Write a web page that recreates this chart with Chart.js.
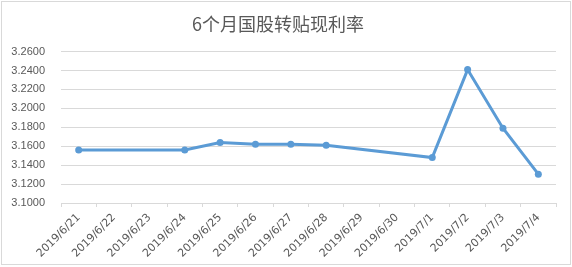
<!DOCTYPE html>
<html>
<head>
<meta charset="utf-8">
<script src="https://cdn.jsdelivr.net/npm/chart.js@4/dist/chart.umd.min.js"></script>
<style>
    html, body {margin: 0; padding: 0; background: #fff;}
    #wrap {position: relative; width: 572px; height: 267px;}
    #frame {position: absolute; left: 1px; top: 1px; width: 568px; height: 262px; border: 1px solid #d9d9d9; pointer-events: none;}
    canvas {position: absolute; left: 0; top: 0;}
</style>
</head>
<body>
<div id="wrap">
    <canvas id="chart" width="572" height="267"></canvas>
    <div id="frame"></div>
</div>
<script>
const title = '6个月国股转贴现利率'
const dates = ['2019/6/21', '2019/6/22', '2019/6/23', '2019/6/24', '2019/6/25', '2019/6/26', '2019/6/27',
    '2019/6/28', '2019/6/29', '2019/6/30', '2019/7/1', '2019/7/2', '2019/7/3', '2019/7/4']
// no quotes on weekends, the line just runs across them
const rates = [3.156, null, null, 3.156, 3.164, 3.162, 3.162, 3.161, null, null, 3.148, 3.241, 3.179, 3.1305]
const yMin = 3.10
const yMax = 3.26
const yStep = 0.02

const gray = '#d9d9d9'
const textColor = '#595959'
const blue = '#5b9bd5'

const ctx = document.getElementById('chart').getContext('2d')
new Chart(ctx, {
    type: 'line',
    data: {
        labels: dates,
        datasets: [
            {
                data: rates,
                borderColor: blue,
                backgroundColor: blue,
                borderWidth: 3,
                pointRadius: 3.5,
                pointBorderWidth: 0,
                spanGaps: true,
                tension: 0,
            },
        ],
    },
    options: {
        responsive: false,
        animation: false,
        layout: {padding: {left: 0, right: 16, top: 0, bottom: 0}},
        plugins: {
            legend: {display: false},
            tooltip: {enabled: false},
            title: {
                display: true,
                text: title,
                color: textColor,
                font: {family: '"Noto Sans CJK SC", sans-serif', size: 18, weight: 'normal', lineHeight: 1.2},
                padding: {top: 13, bottom: 17},
            },
        },
        scales: {
            x: {
                offset: true,
                grid: {
                    offset: true,
                    drawOnChartArea: false,
                    drawTicks: true,
                    tickLength: 4,
                    color: gray,
                },
                border: {color: gray},
                ticks: {
                    autoSkip: false,
                    minRotation: 45,
                    maxRotation: 45,
                    padding: 4,
                    color: textColor,
                    font: {family: '"DejaVu Sans", sans-serif', size: 11},
                },
                afterFit: scale => { scale.height = 64 },
            },
            y: {
                min: yMin,
                max: yMax,
                grid: {color: gray, drawTicks: false},
                border: {display: false},
                ticks: {
                    stepSize: yStep,
                    padding: 16,
                    color: textColor,
                    font: {family: '"Liberation Sans", sans-serif', size: 11},
                    callback: v => v.toFixed(4),
                },
                afterFit: scale => { scale.width = 61 },
            },
        },
    },
})
</script>
</body>
</html>
